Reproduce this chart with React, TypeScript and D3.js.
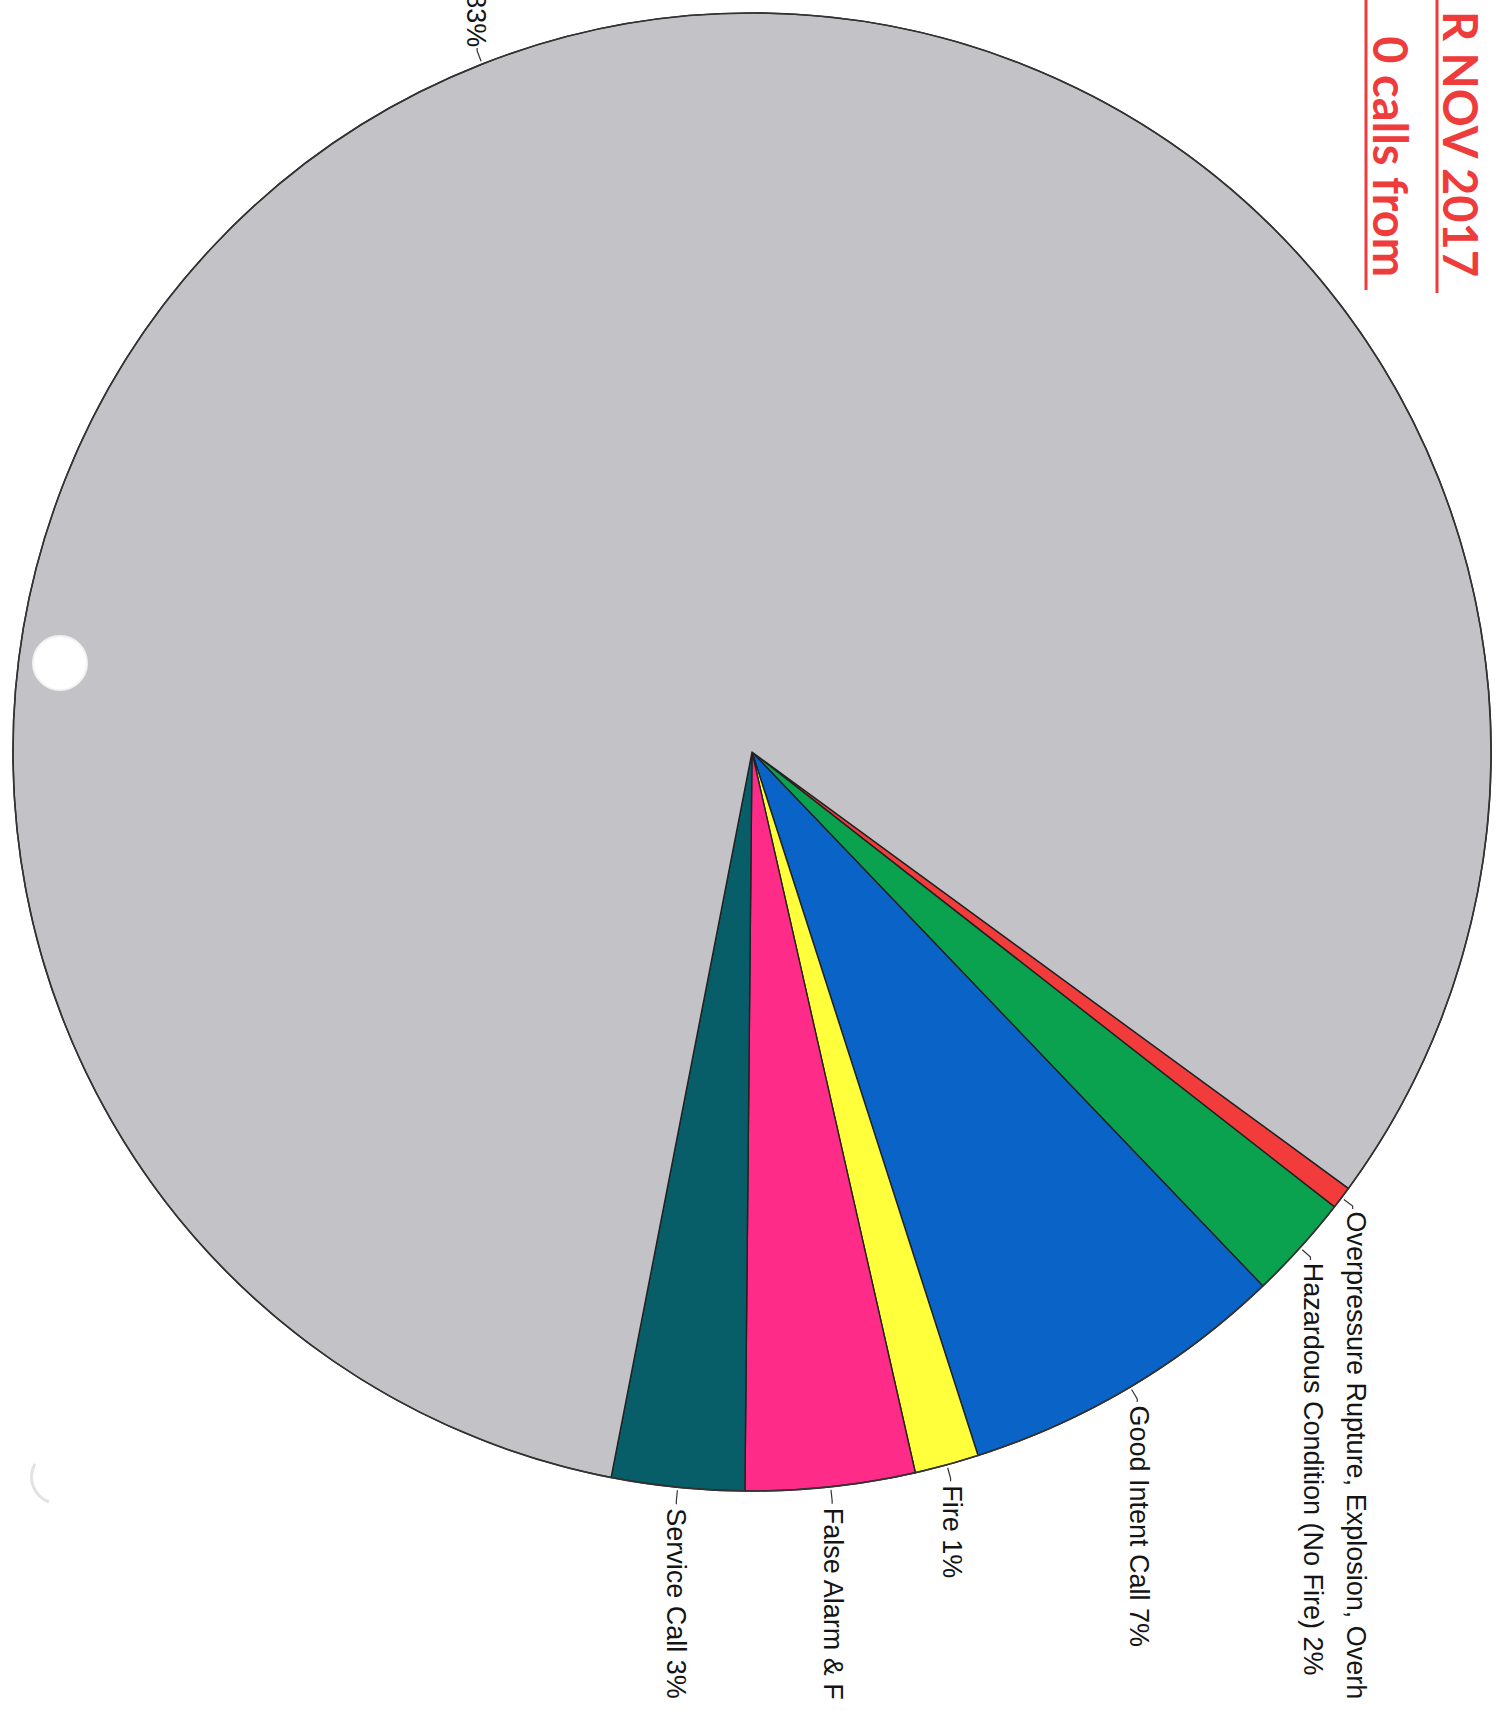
import React from "react";
import * as d3 from "d3";

const sliceNames = [
  "Overpressure Rupture, Explosion, Overheat",
  "Hazardous Condition (No Fire)",
  "Good Intent Call",
  "Fire",
  "False Alarm & False Call",
  "Service Call",
  "Rescue & EMS",
];
const sliceValues = [0.5, 2.3, 7.2, 1.4, 3.7, 2.9, 82.0];
const sliceLabels = [
  "Overpressure Rupture, Explosion, Overh",
  "Hazardous Condition (No Fire) 2%",
  "Good Intent Call 7%",
  "Fire 1%",
  "False Alarm & F",
  "Service Call 3%",
  "83%",
];
const sliceColors = ["#f23b3b", "#0aa24f", "#0a63c6", "#ffff3c", "#ff2b88", "#075d68", "#c3c3c7"];
const titleLines = ["R NOV 2017", "0 calls from"];

const W = 1502;
const H = 1711;
const CX = 752;
const CY = 752;
const R = 739;
const START_DEG = 36.19 + 90;

export default function App() {
  const data = sliceNames.map((n, i) => ({ name: n, value: sliceValues[i], label: sliceLabels[i], color: sliceColors[i] }));
  const pie = d3
    .pie<any>()
    .sort(null)
    .value((d: any) => d.value)
    .startAngle((START_DEG * Math.PI) / 180)
    .endAngle(((START_DEG + 360) * Math.PI) / 180);
  const arcs = pie(data);
  const arc = d3.arc<any>().innerRadius(0).outerRadius(R);
  const pt = (a: number, r: number) => [CX + r * Math.sin(a), CY - r * Math.cos(a)];

  return (
    <svg
      width={W}
      height={H}
      viewBox={`0 0 ${W} ${H}`}
      style={{ position: "absolute", left: 0, top: 0, background: "#ffffff", display: "block" }}
    >
      <rect x={0} y={0} width={W} height={H} fill="#ffffff" />
      <g transform={`translate(${CX},${CY})`}>
        {arcs.map((a, i) => (
          <path key={i} d={arc(a) as string} fill={a.data.color} stroke="#222" strokeWidth={1.4} strokeLinejoin="round" />
        ))}
        <circle r={R} fill="none" stroke="#333" strokeWidth={1.6} />
      </g>
      {arcs.map((a, i) => {
        const m = (a.startAngle + a.endAngle) / 2;
        const [x1, y1] = pt(m, R + 3);
        const [x2, y2] = pt(m, R + 14);
        const [tx, ty] = pt(m, R + 18);
        const below = ty > CY;
        return (
          <g key={"l" + i}>
            <polyline
              points={`${x1},${y1} ${x2},${y2} ${x2},${y2 + (below ? 3 : -3)}`}
              fill="none"
              stroke="#333"
              strokeWidth={1.2}
            />
            <text
              transform={`translate(${tx},${ty + (below ? 3 : 0)}) rotate(90)`}
              textAnchor={below ? "start" : "end"}
              dominantBaseline="central"
              fontFamily="'Liberation Sans', Arial, sans-serif"
              fontSize={27}
              fill="#151515"
            >
              {a.data.label}
            </text>
          </g>
        );
      })}
      {/* punched holes */}
      <circle cx={60} cy={663} r={27} fill="#ffffff" stroke="#f2f2f2" strokeWidth={2} />
      <path
        d={d3.arc()({ innerRadius: 25, outerRadius: 28, startAngle: (200 * Math.PI) / 180, endAngle: (300 * Math.PI) / 180 }) as string}
        transform="translate(58,1477)"
        fill="#e2e2e2"
      />
      {/* title */}
      {titleLines.map((t, i) => {
        const bx = i === 0 ? 1443 : 1373;
        const ux = i === 0 ? 1437 : 1366;
        return (
          <g key={"t" + i}>
            <text
              transform={`translate(${bx},277) rotate(90)`}
              textAnchor="end"
              fontFamily="Lato, 'Open Sans', sans-serif"
              fontWeight={700}
              fontSize={47}
              fill="#ee3c3c"
            >
              {t}
            </text>
            <line x1={ux} y1={0} x2={ux} y2={i === 0 ? 293 : 290} stroke="#ee3c3c" strokeWidth={3} />
          </g>
        );
      })}
    </svg>
  );
}
